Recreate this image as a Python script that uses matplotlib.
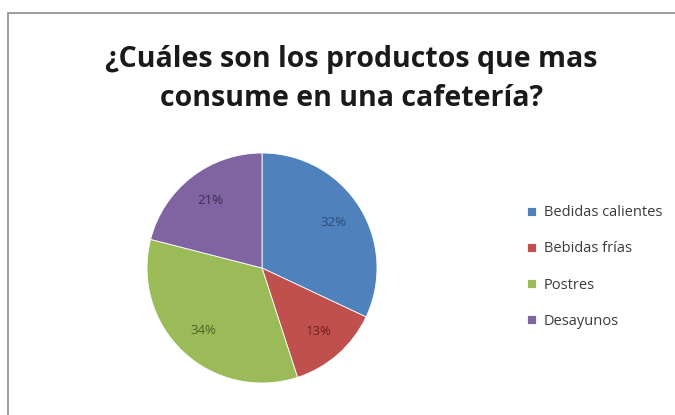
import matplotlib.pyplot as plt
from matplotlib.patches import Rectangle

categorias = ['Bedidas calientes', 'Bebidas frías', 'Postres', 'Desayunos']
porcentajes = [32, 13, 34, 21]
colores = ['#4F81BD', '#C0504D', '#9BBB59', '#8064A2']
colores_texto = ['#2B4C77', '#6E1F1D', '#4A6320', '#3B2A55']

plt.rcParams['font.family'] = ['Open Sans', 'DejaVu Sans']

fig = plt.figure(figsize=(6.75, 4.15), dpi=100)
fig.patch.set_facecolor('white')

# marco gris del área del gráfico
fig.add_artist(Rectangle((8 / 675, -0.01), 1.0, 1 - 13 / 415 + 0.01,
                         transform=fig.transFigure, fill=False,
                         edgecolor='#8C8C8C', linewidth=1.2))

fig.text(0.52, 1 - 79 / 415, '¿Cuáles son los productos que mas\nconsume en una cafetería?',
         ha='center', va='center', fontsize=20.5, fontweight='bold',
         linespacing=1.5, color='#1a1a1a')

# círculo centrado en (262, 268) px con radio de 115 px
cx, cy, r = 262, 268, 115
ax = fig.add_axes([(cx - r) / 675, (415 - cy - r) / 415, 2 * r / 675, 2 * r / 415])
wedges, textos, autotextos = ax.pie(
    porcentajes, colors=colores, startangle=90, counterclock=False,
    autopct='%d%%', pctdistance=0.74, radius=1.0,
    wedgeprops=dict(edgecolor='white', linewidth=0.6),
    textprops=dict(fontsize=9.5))
for t, c in zip(autotextos, colores_texto):
    t.set_color(c)
ax.set_xlim(-1, 1)
ax.set_ylim(-1, 1)
ax.set_aspect('equal')

ley = fig.legend(wedges, categorias, loc='center left',
                 bbox_to_anchor=(0.762, 1 - 267 / 415), frameon=False,
                 fontsize=10.5, handlelength=0.6, handleheight=0.6,
                 handletextpad=0.5, labelspacing=1.45, labelcolor='#3a3a3a')

fig.savefig('out.png', dpi=100, facecolor='white')
